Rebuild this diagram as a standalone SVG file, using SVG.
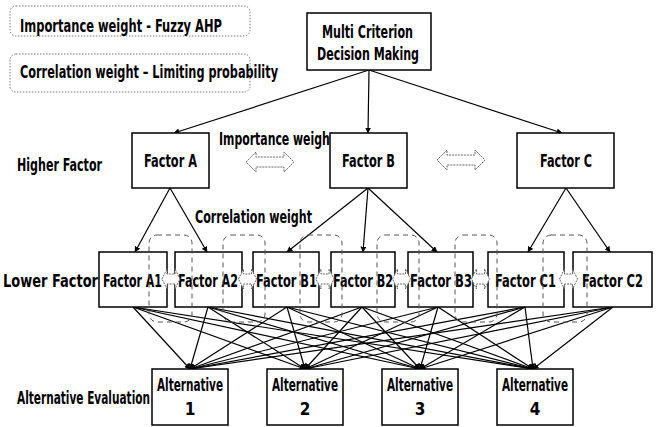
<svg xmlns="http://www.w3.org/2000/svg" xmlns:xlink="http://www.w3.org/1999/xlink" width="656" height="427" viewBox="0 0 656 427">
<style>
text{font-family:"Liberation Sans Narrow","DejaVu Sans Condensed","Liberation Sans",sans-serif;font-weight:bold;fill:#000;font-size:17px}
.box{fill:#fff;stroke:#000;stroke-width:1.5}
.leg{fill:#fff;stroke:#777;stroke-width:1;stroke-dasharray:1.5,1.5}
.con{stroke:#000;stroke-width:1.2;fill:none;marker-end:url(#ah)}
.dash{fill:none;stroke:#555;stroke-width:1;stroke-dasharray:5,4}
.hol{fill:#fff;stroke:#666;stroke-width:1;stroke-dasharray:2,1}
</style>
<defs>
<marker id="ah" viewBox="0 0 10 10" refX="9" refY="5" markerWidth="6" markerHeight="6" orient="auto" markerUnits="userSpaceOnUse"><path d="M0,0 L10,5 L0,10 z" fill="#000"/></marker>
<polygon id="dbl" class="hol" points="-9,0 -4,-10 -4,-5 4,-5 4,-10 9,0 4,10 4,5 -4,5 -4,10"/>
<polygon id="big" class="hol" points="-24,0 -14,-10 -14,-5 14,-5 14,-10 24,0 14,10 14,5 -14,5 -14,10"/>
</defs>
<rect width="656" height="427" fill="#fff"/>

<g id="legend1"><rect class="leg" x="10" y="6" width="240" height="30" rx="6"/><text x="20" y="32" textLength="202" lengthAdjust="spacingAndGlyphs">Importance weight - Fuzzy AHP</text></g>
<g id="legend2"><rect class="leg" x="10" y="54" width="240" height="38" rx="6"/><text x="20" y="78" textLength="258" lengthAdjust="spacingAndGlyphs">Correlation weight – Limiting probability</text></g>

<g id="labels">
<text x="17" y="171" textLength="85" lengthAdjust="spacingAndGlyphs">Higher Factor</text>
<text x="3" y="287" textLength="95" lengthAdjust="spacingAndGlyphs">Lower Factor</text>
<text x="17" y="404" textLength="133" lengthAdjust="spacingAndGlyphs">Alternative Evaluation</text>
<text x="219" y="145" textLength="116" lengthAdjust="spacingAndGlyphs">Importance weight</text>
<text x="195" y="223" textLength="117" lengthAdjust="spacingAndGlyphs">Correlation weight</text>
</g>

<g id="connectors">
<line class="con" x1="369" y1="70" x2="174" y2="133"/>
<line class="con" x1="369" y1="70" x2="368" y2="133"/>
<line class="con" x1="369" y1="70" x2="562" y2="133"/>
<line class="con" x1="170" y1="188" x2="135" y2="252"/>
<line class="con" x1="170" y1="188" x2="207" y2="252"/>
<line class="con" x1="368" y1="188" x2="287" y2="252"/>
<line class="con" x1="368" y1="188" x2="363" y2="252"/>
<line class="con" x1="368" y1="188" x2="437" y2="252"/>
<line class="con" x1="566" y1="188" x2="528" y2="252"/>
<line class="con" x1="566" y1="188" x2="610" y2="252"/>
<g id="lower-to-alt">
<line class="con" x1="133" y1="307" x2="190" y2="369"/><line class="con" x1="133" y1="307" x2="305" y2="369"/><line class="con" x1="133" y1="307" x2="420" y2="369"/><line class="con" x1="133" y1="307" x2="533" y2="369"/>
<line class="con" x1="208" y1="307" x2="190" y2="369"/><line class="con" x1="208" y1="307" x2="305" y2="369"/><line class="con" x1="208" y1="307" x2="420" y2="369"/><line class="con" x1="208" y1="307" x2="533" y2="369"/>
<line class="con" x1="287" y1="307" x2="190" y2="369"/><line class="con" x1="287" y1="307" x2="305" y2="369"/><line class="con" x1="287" y1="307" x2="420" y2="369"/><line class="con" x1="287" y1="307" x2="533" y2="369"/>
<line class="con" x1="362" y1="307" x2="190" y2="369"/><line class="con" x1="362" y1="307" x2="305" y2="369"/><line class="con" x1="362" y1="307" x2="420" y2="369"/><line class="con" x1="362" y1="307" x2="533" y2="369"/>
<line class="con" x1="438" y1="307" x2="190" y2="369"/><line class="con" x1="438" y1="307" x2="305" y2="369"/><line class="con" x1="438" y1="307" x2="420" y2="369"/><line class="con" x1="438" y1="307" x2="533" y2="369"/>
<line class="con" x1="525" y1="307" x2="190" y2="369"/><line class="con" x1="525" y1="307" x2="305" y2="369"/><line class="con" x1="525" y1="307" x2="420" y2="369"/><line class="con" x1="525" y1="307" x2="533" y2="369"/>
<line class="con" x1="613" y1="307" x2="190" y2="369"/><line class="con" x1="613" y1="307" x2="305" y2="369"/><line class="con" x1="613" y1="307" x2="420" y2="369"/><line class="con" x1="613" y1="307" x2="533" y2="369"/>
</g>
<use xlink:href="#big" x="270" y="162"/>
<use xlink:href="#big" x="461" y="160"/>
</g>

<g id="mcdm"><rect class="box" x="307" y="13" width="124" height="57"/><text x="322" y="38" textLength="91" lengthAdjust="spacingAndGlyphs">Multi Criterion</text><text x="317" y="60" textLength="102" lengthAdjust="spacingAndGlyphs">Decision Making</text></g>

<g id="factorA"><rect class="box" x="132" y="133" width="77" height="55"/><text x="144" y="167" font-size="18" textLength="53" lengthAdjust="spacingAndGlyphs">Factor A</text></g>
<g id="factorB"><rect class="box" x="330" y="133" width="77" height="55"/><text x="342" y="167" font-size="18" textLength="53" lengthAdjust="spacingAndGlyphs">Factor B</text></g>
<g id="factorC"><rect class="box" x="517" y="133" width="97" height="55"/><text x="540" y="167" font-size="18" textLength="52" lengthAdjust="spacingAndGlyphs">Factor C</text></g>

<g id="factorA1"><rect class="box" x="99" y="252" width="68" height="55"/><text x="103" y="287" font-size="18" textLength="59" lengthAdjust="spacingAndGlyphs">Factor A1</text></g>
<g id="factorA2"><rect class="box" x="175" y="252" width="67" height="55"/><text x="178" y="287" font-size="18" textLength="60" lengthAdjust="spacingAndGlyphs">Factor A2</text></g>
<g id="factorB1"><rect class="box" x="253" y="252" width="66" height="55"/><text x="256" y="287" font-size="18" textLength="61" lengthAdjust="spacingAndGlyphs">Factor B1</text></g>
<g id="factorB2"><rect class="box" x="331" y="252" width="64" height="55"/><text x="333" y="287" font-size="18" textLength="60" lengthAdjust="spacingAndGlyphs">Factor B2</text></g>
<g id="factorB3"><rect class="box" x="408" y="252" width="65" height="55"/><text x="410" y="287" font-size="18" textLength="62" lengthAdjust="spacingAndGlyphs">Factor B3</text></g>
<g id="factorC1"><rect class="box" x="488" y="252" width="76" height="55"/><text x="495" y="287" font-size="18" textLength="61" lengthAdjust="spacingAndGlyphs">Factor C1</text></g>
<g id="factorC2"><rect class="box" x="573" y="252" width="79" height="55"/><text x="582" y="287" font-size="18" textLength="61" lengthAdjust="spacingAndGlyphs">Factor C2</text></g>

<g id="correlation-marks">
<rect class="dash" x="149" y="235" width="43" height="87" rx="8"/>
<rect class="dash" x="223" y="235" width="42" height="87" rx="8"/>
<rect class="dash" x="300" y="235" width="42" height="87" rx="8"/>
<rect class="dash" x="377" y="235" width="42" height="87" rx="8"/>
<rect class="dash" x="455" y="235" width="42" height="87" rx="8"/>
<rect class="dash" x="543" y="235" width="44" height="87" rx="8"/>
<use xlink:href="#dbl" x="171" y="279"/>
<use xlink:href="#dbl" x="247.5" y="279"/>
<use xlink:href="#dbl" x="325" y="279"/>
<use xlink:href="#dbl" x="401.5" y="279"/>
<use xlink:href="#dbl" x="480.5" y="279"/>
<use xlink:href="#dbl" x="568.5" y="279"/>
</g>

<g id="alt1"><rect class="box" x="152" y="369" width="76" height="56"/><text x="157" y="391" textLength="66" lengthAdjust="spacingAndGlyphs">Alternative</text><text x="190" y="415" text-anchor="middle">1</text></g>
<g id="alt2"><rect class="box" x="267" y="369" width="76" height="56"/><text x="272" y="391" textLength="66" lengthAdjust="spacingAndGlyphs">Alternative</text><text x="305" y="415" text-anchor="middle">2</text></g>
<g id="alt3"><rect class="box" x="382" y="369" width="76" height="56"/><text x="387" y="391" textLength="66" lengthAdjust="spacingAndGlyphs">Alternative</text><text x="420" y="415" text-anchor="middle">3</text></g>
<g id="alt4"><rect class="box" x="497" y="369" width="76" height="56"/><text x="502" y="391" textLength="66" lengthAdjust="spacingAndGlyphs">Alternative</text><text x="535" y="415" text-anchor="middle">4</text></g>
</svg>
